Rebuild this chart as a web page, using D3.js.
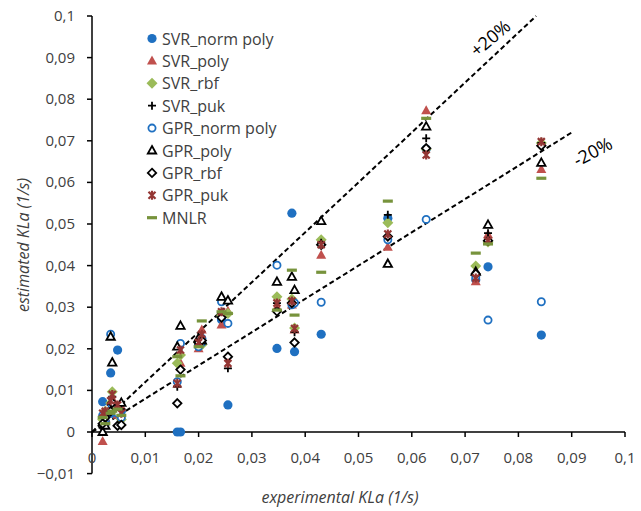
<!DOCTYPE html>
<html>
<head>
<meta charset="utf-8">
<script src="https://cdn.jsdelivr.net/npm/d3@7"></script>
<style>
  body { margin: 0; background: #fff; }
  svg text { font-family: "Open Sans", "DejaVu Sans", sans-serif; fill: #404040; }
</style>
</head>
<body>
<div id="chart"></div>
<script>
// experimental KLa values (1/s)
const xExp = [0.0020, 0.0025, 0.0035, 0.0038, 0.0048, 0.0055, 0.0160, 0.0166, 0.0200, 0.0206,
              0.0243, 0.0255, 0.0347, 0.0375, 0.0380, 0.0430, 0.0555, 0.0627, 0.0720, 0.0743, 0.0843];

// estimated KLa per model
const svrNormPoly = [0.0073, 0.0025, 0.0142, 0.0045, 0.0197, 0.0050, 0.0000, 0.0000, 0.0210, 0.0225,
                     0.0270, 0.0065, 0.0201, 0.0526, 0.0193, 0.0235, 0.0514, 0.0680, 0.0366, 0.0397, 0.0233];
const svrPoly     = [-0.0023, 0.0030, 0.0060, 0.0080, 0.0040, 0.0060, 0.0115, 0.0165, 0.0200, 0.0245,
                     0.0257, 0.0290, 0.0300, 0.0305, 0.0245, 0.0425, 0.0444, 0.0772, 0.0361, 0.0474, 0.0631];
const svrRbf      = [0.0030, 0.0050, 0.0070, 0.0097, 0.0045, 0.0030, 0.0165, 0.0185, 0.0215, 0.0210,
                     0.0281, 0.0285, 0.0325, 0.0320, 0.0250, 0.0462, 0.0503, 0.0680, 0.0399, 0.0457, 0.0695];
const svrPuk      = [0.0010, 0.0040, 0.0065, 0.0085, 0.0050, 0.0055, 0.0109, 0.0150, 0.0210, 0.0220,
                     0.0285, 0.0153, 0.0310, 0.0310, 0.0240, 0.0455, 0.0522, 0.0706, 0.0383, 0.0478, 0.0695];
const gprNormPoly = [0.0040, 0.0020, 0.0235, 0.0060, 0.0045, 0.0035, 0.0121, 0.0213, 0.0205, 0.0215,
                     0.0313, 0.0261, 0.0401, 0.0306, 0.0310, 0.0312, 0.0462, 0.0511, 0.0373, 0.0269, 0.0313];
const gprPoly     = [0.0000, 0.0015, 0.0229, 0.0167, 0.0060, 0.0070, 0.0205, 0.0255, 0.0225, 0.0220,
                     0.0325, 0.0316, 0.0361, 0.0373, 0.0341, 0.0507, 0.0404, 0.0734, 0.0385, 0.0498, 0.0647];
const gprRbf      = [0.0020, 0.0035, 0.0050, 0.0070, 0.0015, 0.0017, 0.0069, 0.0150, 0.0215, 0.0220,
                     0.0275, 0.0181, 0.0290, 0.0310, 0.0215, 0.0450, 0.0470, 0.0682, 0.0380, 0.0460, 0.0688];
const gprPuk      = [0.0045, 0.0050, 0.0075, 0.0090, 0.0065, 0.0045, 0.0117, 0.0197, 0.0215, 0.0235,
                     0.0289, 0.0165, 0.0310, 0.0315, 0.0249, 0.0450, 0.0476, 0.0666, 0.0370, 0.0460, 0.0698];
const mnlr        = [0.0035, 0.0020, 0.0045, 0.0050, 0.0055, 0.0040, 0.0181, 0.0135, 0.0205, 0.0267,
                     0.0289, 0.0285, 0.0293, 0.0389, 0.0281, 0.0384, 0.0555, 0.0754, 0.0430, 0.0452, 0.0610];

// model names as in the legend
const seriesNames = ["SVR_norm poly", "SVR_poly", "SVR_rbf", "SVR_puk", "GPR_norm poly",
                     "GPR_poly", "GPR_rbf", "GPR_puk", "MNLR"];
const seriesValues = [svrNormPoly, svrPoly, svrRbf, svrPuk, gprNormPoly, gprPoly, gprRbf, gprPuk, mnlr];

const xTicks = d3.range(0, 0.1001, 0.01);
const yTicks = d3.range(-0.01, 0.1001, 0.01);

// +/-20% guide lines: slope and end of each
const guides = [
  { label: "+20%", slope: 1.2, xEnd: 0.1 / 1.2 },
  { label: "-20%", slope: 0.8, xEnd: 0.09 }
];

const width = 641, height = 511;

const svg = d3.select("#chart").append("svg")
    .attr("width", width)
    .attr("height", height);

let x = d3.scaleLinear().domain([0, 0.1]).range([92, 625]),
    y = d3.scaleLinear().domain([-0.01, 0.1]).range([473.6, 16]); // y goes downwards

const fmt = v => Math.abs(v) < 1e-9 ? "0" : d3.format(".2~f")(v).replace(".", ",");

/** AXES **/
svg.append("line") // y axis
    .attr("x1", x(0)).attr("x2", x(0))
    .attr("y1", y(-0.01)).attr("y2", y(0.1))
    .attr("stroke", "#000").attr("stroke-width", 1.5);

svg.selectAll("line.ytick").data(yTicks).enter().append("line")
    .attr("class", "ytick")
    .attr("x1", x(0) - 5).attr("x2", x(0))
    .attr("y1", d => y(d)).attr("y2", d => y(d))
    .attr("stroke", "#000").attr("stroke-width", 1.5);

svg.selectAll("text.ylab").data(yTicks).enter().append("text")
    .attr("class", "ylab")
    .attr("x", 75).attr("y", d => y(d) + 5)
    .attr("text-anchor", "end")
    .style("font-size", "15px")
    .text(fmt);

svg.append("line") // x axis sits on y = 0
    .attr("x1", x(0)).attr("x2", x(0.1))
    .attr("y1", y(0)).attr("y2", y(0))
    .attr("stroke", "#000").attr("stroke-width", 1.5);

svg.selectAll("line.xtick").data(xTicks).enter().append("line")
    .attr("class", "xtick")
    .attr("x1", d => x(d)).attr("x2", d => x(d))
    .attr("y1", y(0)).attr("y2", y(0) + 5)
    .attr("stroke", "#000").attr("stroke-width", 1.5);

svg.selectAll("text.xlab").data(xTicks).enter().append("text")
    .attr("class", "xlab")
    .attr("x", d => x(d)).attr("y", y(0) + 31)
    .attr("text-anchor", "middle")
    .style("font-size", "15px")
    .text(fmt);

svg.append("text")
    .attr("x", 340).attr("y", 503)
    .attr("text-anchor", "middle")
    .style("font-size", "16px").style("font-style", "italic")
    .text("experimental KLa (1/s)");

svg.append("text")
    .attr("transform", "translate(29,245) rotate(-90)")
    .attr("text-anchor", "middle")
    .style("font-size", "16px").style("font-style", "italic")
    .text("estimated KLa (1/s)");

/** GUIDE LINES **/
svg.selectAll("line.guide").data(guides).enter().append("line")
    .attr("class", "guide")
    .attr("x1", x(0)).attr("y1", y(0))
    .attr("x2", d => x(d.xEnd)).attr("y2", d => y(d.xEnd * d.slope))
    .attr("stroke", "#000").attr("stroke-width", 2)
    .attr("stroke-dasharray", "5,3");

svg.append("text")
    .attr("transform", `translate(${x(0.0755)},${y(0.0935)}) rotate(-40)`)
    .attr("text-anchor", "middle")
    .style("font-size", "18px").style("fill", "#000")
    .text(guides[0].label);

svg.append("text")
    .attr("transform", `translate(${x(0.0945)},${y(0.0660)}) rotate(-28)`)
    .attr("text-anchor", "middle")
    .style("font-size", "18px").style("fill", "#000")
    .text(guides[1].label);

/** MARKERS **/
const blue = "#1f70c1", red = "#c0504d", green = "#9bbb59", olive = "#77933c", darkRed = "#943634";

function drawMarker(g, i) {
    switch (i) {
        case 0:
            g.append("circle").attr("r", 4.6).attr("fill", blue);
            break;
        case 1:
            g.append("path").attr("d", "M0,-5.5L5,3.5L-5,3.5Z").attr("fill", red);
            break;
        case 2:
            g.append("path").attr("d", "M0,-5.5L5.5,0L0,5.5L-5.5,0Z").attr("fill", green);
            break;
        case 3:
            g.append("path").attr("d", "M-4,0H4M0,-4V4").attr("stroke", "#000").attr("stroke-width", 1.8);
            break;
        case 4:
            g.append("circle").attr("r", 3.6).attr("fill", "#fff")
                .attr("stroke", blue).attr("stroke-width", 1.8);
            break;
        case 5:
            g.append("path").attr("d", "M0,-4.5L4.2,3L-4.2,3Z").attr("fill", "#fff")
                .attr("stroke", "#000").attr("stroke-width", 1.8).attr("stroke-linejoin", "miter");
            break;
        case 6:
            g.append("path").attr("d", "M0,-4.2L4.2,0L0,4.2L-4.2,0Z").attr("fill", "#fff")
                .attr("stroke", "#000").attr("stroke-width", 1.8);
            break;
        case 7:
            g.append("path").attr("d", "M-3.5,-3.5L3.5,3.5M-3.5,3.5L3.5,-3.5M0,-4.5V4.5")
                .attr("stroke", darkRed).attr("stroke-width", 2.2);
            break;
        case 8:
            g.append("rect").attr("x", -5).attr("y", -1.6).attr("width", 10).attr("height", 3.2)
                .attr("fill", olive);
            break;
    }
}

seriesValues.forEach((vals, i) => {
    let layer = svg.append("g").attr("class", "series-" + i);
    layer.selectAll("g").data(vals).enter().append("g")
        .attr("transform", (d, j) => `translate(${x(xExp[j])},${y(d)})`)
        .each(function () { drawMarker(d3.select(this), i); });
});

/** LEGEND **/
let legend = svg.append("g").attr("class", "legend");
seriesNames.forEach((name, i) => {
    let row = legend.append("g").attr("transform", `translate(152,${38.5 + i * 22.4})`);
    drawMarker(row.append("g"), i);
    row.append("text")
        .attr("x", 10).attr("y", 6)
        .style("font-size", "16px")
        .text(name);
});
</script>
</body>
</html>
